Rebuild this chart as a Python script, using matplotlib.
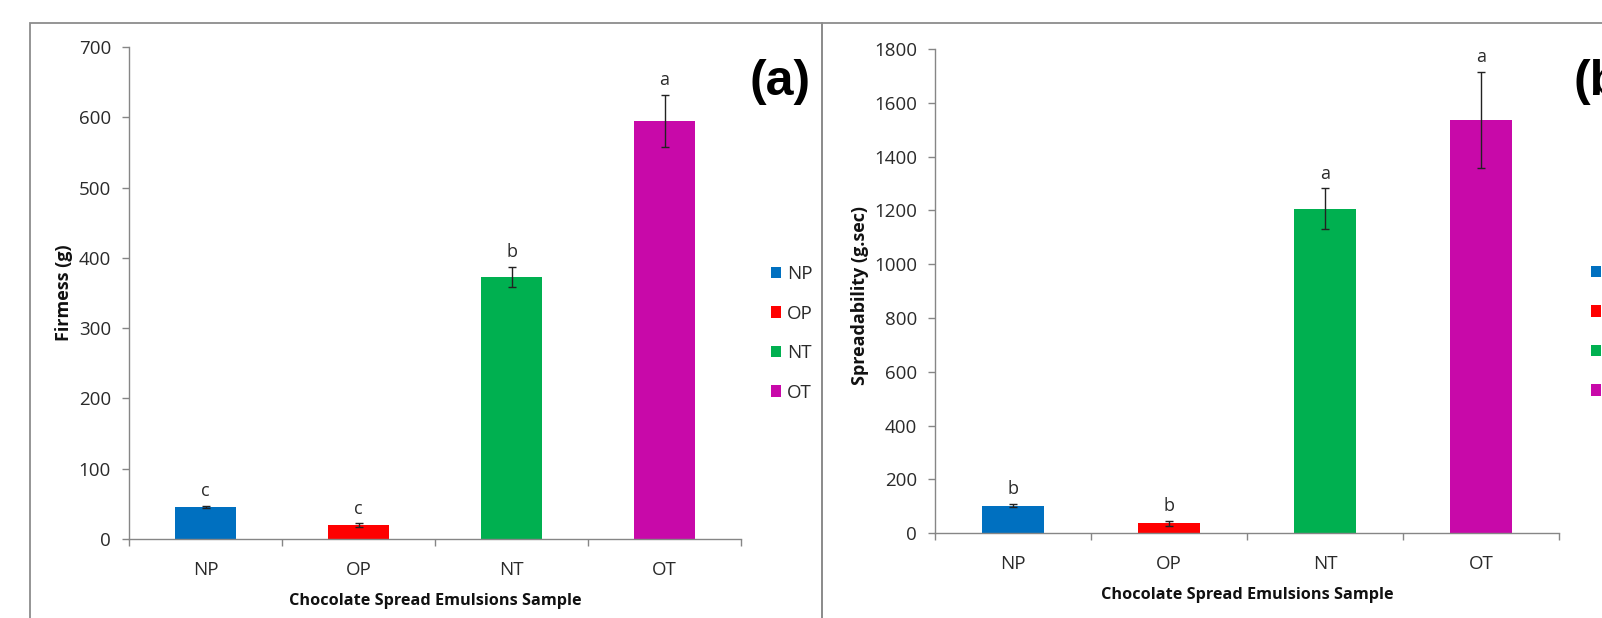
import matplotlib.pyplot as plt
from matplotlib.patches import Rectangle
from matplotlib.ticker import FixedLocator

plt.rcParams['font.family'] = ['Open Sans', 'DejaVu Sans']

samples = ['NP', 'OP', 'NT', 'OT']
colors = ['#0070C0', '#FF0000', '#00B050', '#C809A9']

firmness = [46, 20, 373, 595]
firmness_err = [1.5, 2.5, 14, 37]
firmness_groups = ['c', 'c', 'b', 'a']

spread = [103, 37, 1207, 1537]
spread_err = [6, 9, 76, 178]
spread_groups = ['b', 'b', 'a', 'a']

W, H = 1602, 618
fig = plt.figure(figsize=(W / 100, H / 100), dpi=100)
fig.patch.set_facecolor('white')

# panel frames (bottom edge runs off the figure)
for x0, x1 in [(30, 822), (822, 1700)]:
    fig.patches.append(Rectangle((x0 / W, -0.1), (x1 - x0) / W, 1.1 - 23.5 / H,
                                 transform=fig.transFigure, fill=False,
                                 edgecolor='#8c8c8c', lw=1.3))

axgray = '#868686'
txt = '#2a2a2a'


def panel(rect, vals, errs, groups, ymax, ystep, ylabel, ylab_xy, xlab_y, tag, tag_x, leg_x, leg_y):
    ax = fig.add_axes(rect)
    x = range(len(samples))
    for i in x:
        ax.bar(i, vals[i], width=0.4, color=colors[i], label=samples[i], zorder=2)
    ax.errorbar(list(x), vals, yerr=errs, fmt='none', ecolor='#222222',
                elinewidth=1, capsize=3, capthick=1, zorder=3)
    for i in x:
        ax.annotate(groups[i], (i, vals[i] + errs[i]), xytext=(0, 4),
                    textcoords='offset points', ha='center', va='bottom',
                    fontsize=13, color='#2a2a2a')
    ax.set_xlim(-0.5, len(samples) - 0.5)
    ax.set_ylim(0, ymax)
    ax.set_yticks(range(0, ymax + 1, ystep))
    ax.set_xticks(list(x))
    ax.set_xticklabels(samples)
    ax.xaxis.set_minor_locator(FixedLocator([i - 0.5 for i in range(len(samples) + 1)]))
    ax.tick_params(axis='x', which='major', length=0, pad=15.5, labelsize=13.5, labelcolor=txt)
    ax.tick_params(axis='x', which='minor', length=5, width=1, color=axgray)
    ax.tick_params(axis='y', length=5, width=1, color=axgray, pad=8, labelsize=13.5, labelcolor=txt)
    for s in ['top', 'right']:
        ax.spines[s].set_visible(False)
    for s in ['left', 'bottom']:
        ax.spines[s].set_color(axgray)
        ax.spines[s].set_linewidth(1)
    ax.set_ylabel(ylabel, fontsize=13, fontweight='bold', color='#111111')
    ax.yaxis.set_label_coords(*ylab_xy)
    ax.set_xlabel('Chocolate Spread Emulsions Sample', fontsize=11.7, fontweight='bold', color='#111111')
    ax.xaxis.set_label_coords(0.5, xlab_y)
    fig.text(tag_x / W, 1 - 82 / H, tag, fontsize=36, fontweight='bold',
             family='Liberation Sans', ha='left', va='center', color='black')
    ax.legend(loc='upper left', bbox_to_anchor=(leg_x / W, 1 - leg_y / H),
              bbox_transform=fig.transFigure, frameon=False, fontsize=13.5,
              handlelength=0.55, handleheight=0.55, handletextpad=0.3,
              labelspacing=1.15, borderpad=0, borderaxespad=0, labelcolor=txt)
    return ax


panel([129 / W, 1 - 539 / H, 612 / W, 492 / H], firmness, firmness_err, firmness_groups,
      700, 100, 'Firmess (g)', (-0.092, 0.5), -0.110, '(a)', 749, 771, 265)
panel([935 / W, 1 - 533.3 / H, 624 / W, 484.3 / H], spread, spread_err, spread_groups,
      1800, 200, 'Spreadability (g.sec)', (-0.106, 0.492), -0.110, '(b)', 1573, 1591, 264)

fig.savefig('out.png', dpi=100, facecolor='white')
